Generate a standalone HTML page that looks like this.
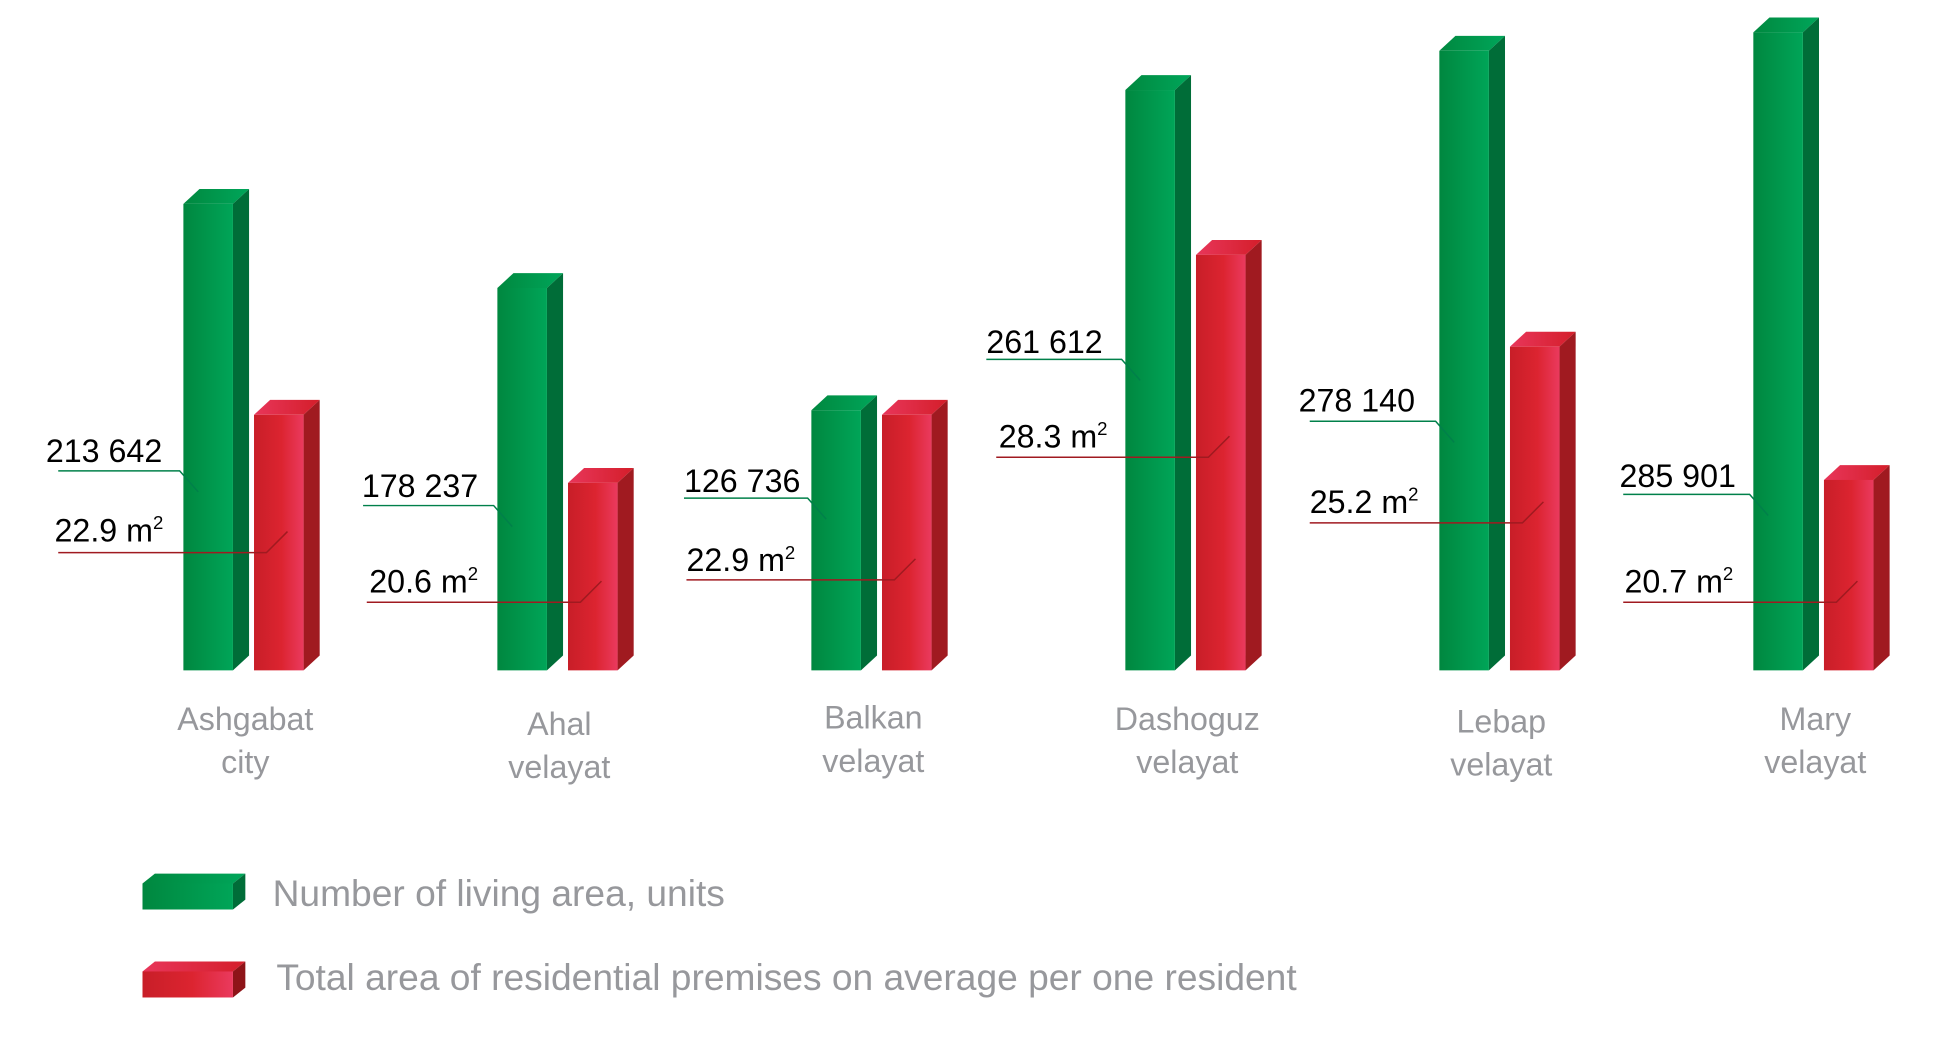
<!DOCTYPE html>
<html><head><meta charset="utf-8"><style>
html,body{margin:0;padding:0;background:#fff;}
svg{display:block;font-family:"Liberation Sans",Arial,sans-serif;}
</style></head><body>
<svg id="chart" width="1933" height="1039" viewBox="0 0 1560 838.5" xmlns="http://www.w3.org/2000/svg">
<defs>
<linearGradient id="gF" x1="0" x2="1" y1="0" y2="0"><stop offset="0" stop-color="#00873f"/><stop offset="1" stop-color="#00a558"/></linearGradient>
<linearGradient id="gT" x1="0" x2="1" y1="0" y2="0"><stop offset="0" stop-color="#00883f"/><stop offset="1" stop-color="#00a65a"/></linearGradient>
<linearGradient id="rF" x1="0" x2="1" y1="0" y2="0"><stop offset="0" stop-color="#c81e28"/><stop offset="0.55" stop-color="#dc2430"/><stop offset="1" stop-color="#ea3a5e"/></linearGradient>
<linearGradient id="rT" x1="0" x2="1" y1="0" y2="0"><stop offset="0" stop-color="#e8365a"/><stop offset="1" stop-color="#d41e2a"/></linearGradient>
</defs>
<g id="bars"></g>
<g id="labels"></g>
<g id="legend">
  <g>
    <polygon points="115,713 125,705 198,705 188,713" fill="url(#gT)"/>
    <polygon points="188,713 198,705 198,726 188,734" fill="#006d38"/>
    <rect x="115" y="713" width="73" height="21" fill="url(#gF)"/>
    <text x="220" y="731" font-size="30" fill="#97989c">Number of living area, units</text>
  </g>
  <g>
    <polygon points="115,784 125,776 198,776 188,784" fill="url(#rT)"/>
    <polygon points="188,784 198,776 198,797 188,805" fill="#8e1418"/>
    <rect x="115" y="784" width="73" height="21" fill="url(#rF)"/>
    <text x="223" y="799" font-size="30" fill="#97989c">Total area of residential premises on average per one resident</text>
  </g>
</g>
</svg>
<script>
const categories = ["Ashgabat|city","Ahal|velayat","Balkan|velayat","Dashoguz|velayat","Lebap|velayat","Mary|velayat"];
const units = [213642,178237,126736,261612,278140,285901];
const unitLabels = ["213 642","178 237","126 736","261 612","278 140","285 901"];
const areas = [22.9,20.6,22.9,28.3,25.2,20.7];
const areaLabels = ["22.9","20.6","22.9","28.3","25.2","20.7"];

const NS = "http://www.w3.org/2000/svg";
const base = 541, W = 40, D = 13, H = 12;
function xGroup(i){ return 148 + i*253.4; }
function yUnits(v){ return base - (v - 17170)*0.001916; }
function yArea(v){ return base - (v - 14.27)*23.9; }
function mk(tag, attrs, parent){ const e=document.createElementNS(NS,tag); for(const k in attrs) e.setAttribute(k,attrs[k]); parent.appendChild(e); return e; }

const barsG = document.getElementById('bars');
const labG = document.getElementById('labels');

function bar(x, top, front, topFill, side, name){
  const g = mk('g',{},barsG);
  
  
  mk('polygon',{points:`${x},${top} ${x+D},${top-H} ${x+W+D},${top-H} ${x+W},${top}`,fill:topFill},g);
  mk('polygon',{points:`${x+W},${top} ${x+W+D},${top-H} ${x+W+D},${base-H} ${x+W},${base}`,fill:side},g);
  mk('rect',{x:x,y:top,width:W,height:base-top,fill:front},g);
}

// annotation positions (label x, baseline, line y, line start x)
const uAnn = [[37,373,380,47],[292,401,408,293],[552,397,402,552],[796,285,290,796],[1048,332,340,1057],[1307,393,399,1310]];
const aAnn = [[44,437,446,47],[298,478,486,296],[554,461,468,554],[806,361,369,804],[1057,414,422,1057],[1311,478,486,1310]];
const catY = [589,593,588,589,591,589];

categories.forEach((c,i)=>{
  const gx = xGroup(i), rx = gx + 57;
  const gt = yUnits(units[i]), rt = yArea(areas[i]);
  bar(gx, gt, 'url(#gF)', 'url(#gT)', '#006d38', 'bar-units-'+i);
  bar(rx, rt, 'url(#rF)', 'url(#rT)', '#a01a20', 'bar-area-'+i);

  const ua = uAnn[i];
  const ul = mk('polyline',{points:`${ua[3]},${ua[2]} ${gx-3},${ua[2]} ${gx+12},${ua[2]+17}`,fill:'none',stroke:'#00804a','stroke-width':1.2},labG);
  
  
  const ut = mk('text',{x:ua[0],y:ua[1],'font-size':26,fill:'#000'},labG);
  ut.textContent = unitLabels[i];
  
  

  const aa = aAnn[i];
  const al = mk('polyline',{points:`${aa[3]},${aa[2]} ${rx+10},${aa[2]} ${rx+27},${aa[2]-17}`,fill:'none',stroke:'#a01a20','stroke-width':1.2},labG);
  
  
  const at = mk('text',{x:aa[0],y:aa[1],'font-size':26,fill:'#000'},labG);
  at.textContent = areaLabels[i] + ' m';
  const sup = mk('tspan',{'font-size':15,dy:-10},at);
  sup.textContent = '2';
  
  

  const parts = c.split('|');
  const cx = gx + 50;
  const ct = mk('text',{x:cx,y:catY[i],'font-size':26,fill:'#97989c','text-anchor':'middle'},labG);
  
  
  const t1 = mk('tspan',{x:cx,dy:0},ct); t1.textContent = parts[0];
  const t2 = mk('tspan',{x:cx,dy:35},ct); t2.textContent = parts[1];
});
</script>
</body></html>
